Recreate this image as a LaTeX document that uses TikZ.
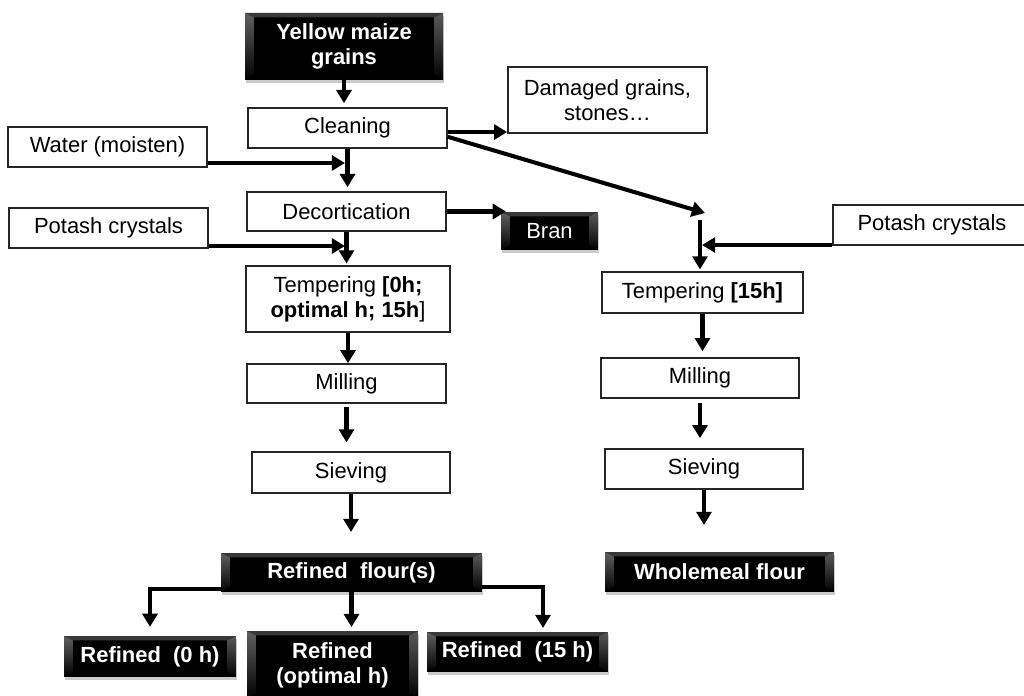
\documentclass[tikz,border=0pt]{standalone}
\usepackage{fontspec}
\setmainfont{Liberation Sans}
\usetikzlibrary{arrows.meta,calc,shadows}
\begin{document}
\begin{tikzpicture}[x=0.02cm,y=-0.02cm,
  sz/.style 2 args={minimum width=#1*0.02cm, minimum height=#2*0.02cm},
  wbox/.style={draw=black!85, line width=0.9pt, fill=white, inner sep=0pt, align=center,
    font=\fontsize{12.5}{14.4}\selectfont},
  bbox/.style={fill=black, text=white, inner sep=0pt, align=center,
    font=\fontsize{12.5}{14.4}\selectfont\bfseries,
    drop shadow={shadow xshift=0.6pt, shadow yshift=-1.6pt, fill=black!45, opacity=0.45},
    path picture={
      \fill[black!78] (path picture bounding box.north west) -- (path picture bounding box.north east)
        -- ([shift={(-5pt,-2.5pt)}]path picture bounding box.north east)
        -- ([shift={(5pt,-2.5pt)}]path picture bounding box.north west) -- cycle;
      \shade[top color=black!62, bottom color=black] (path picture bounding box.north west)
        -- ([shift={(5pt,-2.5pt)}]path picture bounding box.north west)
        -- ([shift={(5pt,3pt)}]path picture bounding box.south west)
        -- (path picture bounding box.south west) -- cycle;
      \shade[top color=black!65, bottom color=black] (path picture bounding box.north east)
        -- ([shift={(-5pt,-2.5pt)}]path picture bounding box.north east)
        -- ([shift={(-5pt,3pt)}]path picture bounding box.south east)
        -- (path picture bounding box.south east) -- cycle;
    }},
  arr/.style={line width=2.3pt, -{Triangle[width=8.5pt,length=7.5pt]}}]
\useasboundingbox (0,0) rectangle (1024,696);
\clip (0,0) rectangle (1024,696);
\fill[white] (0,0) rectangle (1024,696);

% left column
\node[bbox, sz={198}{67}] (yellow) at (344,46.5) {Yellow maize\\grains};
\node[wbox, sz={199}{40}] (clean) at (347.5,128) {Cleaning};
\node[wbox, sz={199}{66}] (damaged) at (607.5,100) {Damaged grains,\\stones…};
\node[wbox, sz={199}{40}] (water) at (107.5,147) {Water (moisten)};
\node[wbox, sz={199}{39}] (decort) at (346.5,211.5) {Decortication};
\node[bbox, sz={97}{38}, font=\fontsize{12.5}{14.4}\selectfont\mdseries] (bran) at (549.5,231) {Bran};
\node[wbox, sz={199}{40}] (potL) at (108.5,228) {Potash crystals};
\node[wbox, sz={204}{66}] (tempL) at (348,299) {Tempering \textbf{[0h;}\\\textbf{optimal h; 15h}]};
\node[wbox, sz={199}{39}] (millL) at (346.5,383.5) {Milling};
\node[wbox, sz={198}{41}] (sievL) at (351,472.5) {Sieving};
\node[bbox, sz={261}{39}] (refined) at (351.5,572.5) {Refined\ \ flour(s)};
\node[bbox, sz={172}{41}] (r0) at (150,656.5) {Refined\ \ (0 h)};
\node[bbox, sz={171}{68}] (ropt) at (332.5,665) {Refined\\(optimal h)};
\node[bbox, sz={181}{40}] (r15) at (517.5,652) {Refined\ \ (15 h)};

% right column
\node[wbox, sz={201}{41}] (tempR) at (702.5,292.5) {Tempering \textbf{[15h]}};
\node[wbox, sz={198}{40}] (potR) at (932,225) {Potash crystals};
\node[wbox, sz={198}{40}] (millR) at (700,378) {Milling};
\node[wbox, sz={198}{40}] (sievR) at (704,469) {Sieving};
\node[bbox, sz={229}{40}] (whole) at (719.5,572) {Wholemeal flour};

% free ends
\coordinate (wj) at (345,163);
\coordinate (pj) at (345,246);
\coordinate (sL) at (351,532);
\coordinate (b15) at (543,628);
\coordinate (dj) at (705,213);
\coordinate (rj) at (700,220);
\coordinate (prj) at (702,245);
\coordinate (sR) at (704,525);

% connectors
\draw[arr, shorten >=2.3pt] (yellow.south) -- (yellow.south |- clean.north);
\draw[arr, shorten >=2.3pt] (clean.south) -- (clean.south |- decort.north);
\draw[arr] (water.east |- wj) -- (wj);
\draw[arr, shorten >=1pt] (decort.south) -- (decort.south |- tempL.north);
\draw[arr] (potL.east |- pj) -- (pj);
\draw[arr] (tempL.south) -- (tempL.south |- millL.north);
\draw[arr, shorten <=2pt, shorten >=5pt] (millL.south) -- (millL.south |- sievL.north);
\draw[arr] (sievL.south) -- (sL);
\draw[arr, shorten >=5pt] ([yshift=2pt]refined.south west) -| (r0.north);
\draw[arr, shorten >=2pt] (refined.south) -- (refined.south |- ropt.north);
\draw[arr] ([yshift=3pt]refined.south east) -| (b15);
\draw[arr] ([yshift=-2.3pt]clean.east) -- ([yshift=-2.3pt]clean.east -| damaged.west);
\draw[arr] ([yshift=-5pt]clean.east) -- (dj);
\draw[arr] (decort.east) -- ([xshift=3pt]decort.east -| bran.west);
\draw[arr, shorten >=1pt] (rj) -- (rj |- tempR.north);
\draw[arr] (potR.west |- prj) -- (prj);
\draw[arr, shorten >=3.4pt] (tempR.south) -- (tempR.south |- millR.north);
\draw[arr, shorten <=2.5pt, shorten >=5.7pt] (millR.south) -- (millR.south |- sievR.north);
\draw[arr] (sievR.south) -- (sR);
\end{tikzpicture}
\end{document}
